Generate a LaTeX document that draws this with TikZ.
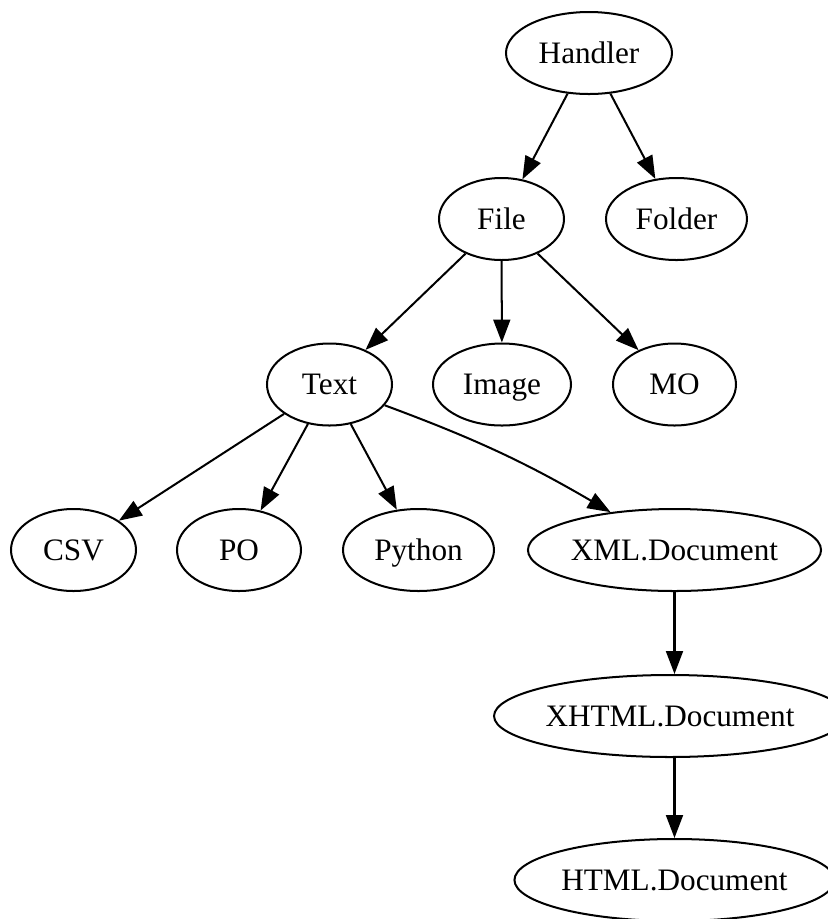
\documentclass[tikz,border=0pt]{standalone}
\usepackage{fontspec}
\setmainfont{Liberation Serif}
\usetikzlibrary{shapes.geometric,arrows.meta}
\def\pxu{0.4484pt}
\tikzset{
  cls/.style={draw, ellipse, line width=0.9pt, inner sep=0pt,
    minimum height=82*\pxu, text height=9.3pt, text depth=0pt,
    font=\fontsize{14}{16}\selectfont},
  inh/.style={line width=0.9pt, -{Triangle[length=10.3pt,width=7.6pt]}},
}
\begin{document}
\begin{tikzpicture}[x=\pxu, y=-\pxu]
	\useasboundingbox (0,0) rectangle (828,919);
	% class nodes
	\node[cls, minimum width=166*\pxu] (handler) at (589,53) {Handler};
	\node[cls, minimum width=125*\pxu] (file) at (501.5,219) {File};
	\node[cls, minimum width=141*\pxu] (folder) at (676.5,219) {Folder};
	\node[cls, minimum width=125*\pxu] (text) at (329.5,384.5) {Text};
	\node[cls, minimum width=138*\pxu] (image) at (502,384.5) {Image};
	\node[cls, minimum width=123*\pxu] (mo) at (674.5,384.5) {MO};
	\node[cls, minimum width=125*\pxu] (csv) at (73.5,550) {CSV};
	\node[cls, minimum width=124*\pxu] (po) at (239,550) {PO};
	\node[cls, minimum width=151*\pxu] (python) at (418.5,550) {Python};
	\node[cls, minimum width=275*\pxu] (xml) at (674.5,550) {XML.Document};
	\node[cls, minimum width=314*\pxu] (xhtml) at (670,716) {XHTML.Document};
	\node[cls, minimum width=295*\pxu] (html) at (674.5,880) {HTML.Document};
	% edges
	\draw[inh] (handler) -- (file);
	\draw[inh] (handler) -- (folder);
	\draw[inh] (file) -- (text);
	\draw[inh] (file) -- (image);
	\draw[inh] (file) -- (mo);
	\draw[inh] (text) -- (csv);
	\draw[inh] (text) -- (po);
	\draw[inh] (text) -- (python);
	\draw[inh] (text) to[bend left=5] (xml);
	\draw[inh] (xml) -- (xml |- xhtml.north);
	\draw[inh] (xhtml.south -| html) -- (html);
\end{tikzpicture}
\end{document}
